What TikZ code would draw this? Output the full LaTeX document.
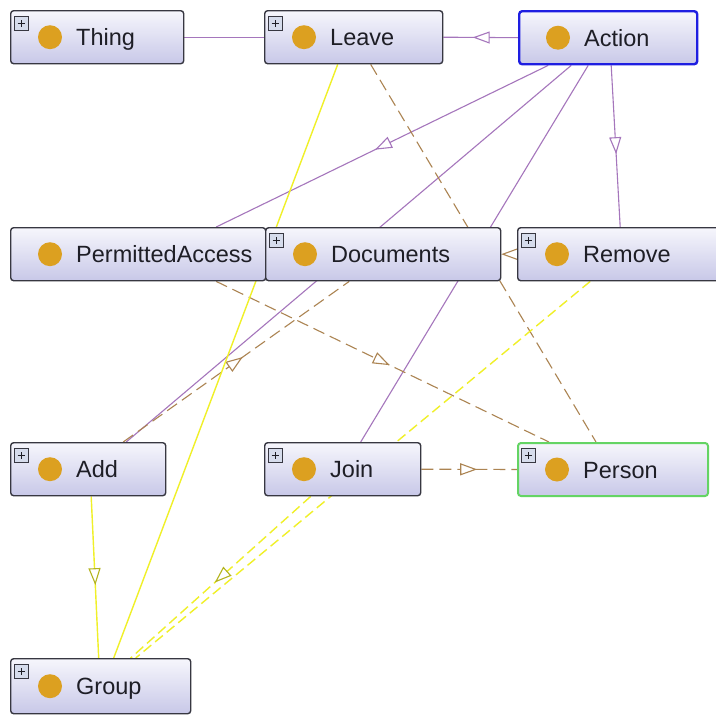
\documentclass[tikz,border=0pt]{standalone}
\usepackage{fontspec}
\setmainfont{Liberation Sans}
\usetikzlibrary{arrows.meta,decorations.markings}
\pgfdeclarelayer{bg}
\pgfsetlayers{bg,main}
\definecolor{boxline}{RGB}{55,55,65}
\definecolor{boxtop}{RGB}{246,246,252}
\definecolor{boxbot}{RGB}{200,200,232}
\definecolor{dotc}{RGB}{220,160,32}
\definecolor{textc}{RGB}{30,30,38}
\definecolor{purp}{RGB}{165,118,188}
\definecolor{brn}{RGB}{172,132,82}
\definecolor{yel}{RGB}{240,240,40}
\definecolor{actblue}{RGB}{30,30,225}
\definecolor{persgreen}{RGB}{100,212,100}
\definecolor{plusfill}{RGB}{214,220,236}
\newcommand\ogclass[6][]{%
  \node[cls, minimum width=#5, #1] (#2) at (#3,#4) {};
  \fill[dotc] ([xshift=40pt]#2.west) circle (12pt);
  \node[lbl] (#2-t) at ([xshift=66pt,yshift=-8.5pt]#2.west) {#6};
}
\newcommand\ogplus[1]{%
  \node[plusbox] (#1-p) at ([xshift=11pt,yshift=-13pt]#1.north west) {};
  \draw[line width=1pt, textc] ([xshift=-3.5pt]#1-p.center) -- ([xshift=3.5pt]#1-p.center);
  \draw[line width=1pt, textc] ([yshift=-3.5pt]#1-p.center) -- ([yshift=3.5pt]#1-p.center);
}
\begin{document}
\begin{tikzpicture}[x=1pt,y=-1pt,
  cls/.style={draw=boxline, line width=1.4pt, rounded corners=3pt,
    top color=boxtop, bottom color=boxbot, minimum height=53pt,
    inner sep=0pt, anchor=north west},
  lbl/.style={anchor=base west, inner sep=0pt, text=textc,
    font=\fontsize{23.5}{24}\selectfont},
  plusbox/.style={draw=boxline, line width=0.6pt, fill=plusfill,
    minimum size=14pt, inner sep=0pt},
  pline/.style={draw=purp, line width=1.1pt},
  bdash/.style={draw=brn, line width=1.1pt, dash pattern=on 12pt off 6pt},
  yline/.style={draw=yel, line width=1.4pt},
  ydash/.style={draw=yel, line width=1.4pt, dash pattern=on 10pt off 5pt},
  midarrow/.style={postaction={decorate}, decoration={markings,
    mark=at position 0.5 with {\arrow[xshift=8pt]{Triangle[open, length=17pt, width=12pt, fill=white, line width=1.1pt]}}}},
  ymidarrow/.style={postaction={decorate}, decoration={markings,
    mark=at position 0.5 with {\arrow[xshift=8pt, solid]{Triangle[open, length=17pt, width=12pt, fill=white, line width=1.1pt, color=yel!75!black]}}}}
]
\useasboundingbox (0,0) rectangle (716,715);

\ogclass{thing}{10}{10}{173pt}{Thing}
\ogplus{thing}
\ogclass{leave}{264}{10}{178pt}{Leave}
\ogplus{leave}
\ogclass[draw=actblue, line width=2.4pt]{action}{518}{10}{178pt}{Action}
\ogclass{pa}{10}{227}{255pt}{PermittedAccess}
\ogclass{docs}{265}{227}{235pt}{Documents}
\ogplus{docs}
\ogclass{remove}{517}{227}{205pt}{Remove}
\ogplus{remove}
\ogclass{add}{10}{442}{155pt}{Add}
\ogplus{add}
\ogclass{join}{264}{442}{156pt}{Join}
\ogplus{join}
\ogclass[draw=persgreen, line width=2pt]{person}{517}{442}{190pt}{Person}
\ogplus{person}
\ogclass[minimum height=55pt]{group}{10}{658}{180pt}{Group}
\ogplus{group}

\begin{pgfonlayer}{bg}
  \fill[white] (0,0) rectangle (716,715);
  % object / subclass relations (purple)
  \draw[pline] (thing.east) -- (leave.west);
  \draw[pline, midarrow] (action.west) -- (leave.east);
  \draw[pline, midarrow] ([xshift=-60pt]action.south) -- ([xshift=78pt]pa.north);
  \draw[pline, midarrow] ([xshift=-37pt]action.south) -- ([xshift=38pt]add.north);
  \draw[pline, midarrow] ([xshift=-20pt]action.south) -- ([xshift=18pt]join.north);
  \draw[pline, midarrow] ([xshift=3pt]action.south) -- (remove.north);
  % brown dashed relations
  \draw[bdash, midarrow] ([xshift=17pt]leave.south) -- ([xshift=-17pt]person.north);
  \draw[bdash, midarrow] ([xshift=78pt]pa.south) -- ([xshift=-64pt]person.north);
  \draw[bdash, midarrow] ([xshift=35pt]add.north) -- ([xshift=-34pt]docs.south);
  \draw[bdash, midarrow] (remove.west) -- (docs.east);
  \draw[bdash, midarrow] (join.east) -- (person.west);
  % yellow relations
  \draw[yline, ymidarrow] ([xshift=3pt]add.south) -- ([xshift=-2pt]group.north);
  \draw[yline] ([xshift=-16pt]leave.south) -- ([xshift=13pt]group.north);
  \draw[ydash, ymidarrow] ([xshift=-32pt]join.south) -- ([xshift=30pt]group.north);
  \draw[ydash, ymidarrow] ([xshift=-30pt]remove.south) -- ([xshift=35pt]group.north);
\end{pgfonlayer}
\end{tikzpicture}
\end{document}
